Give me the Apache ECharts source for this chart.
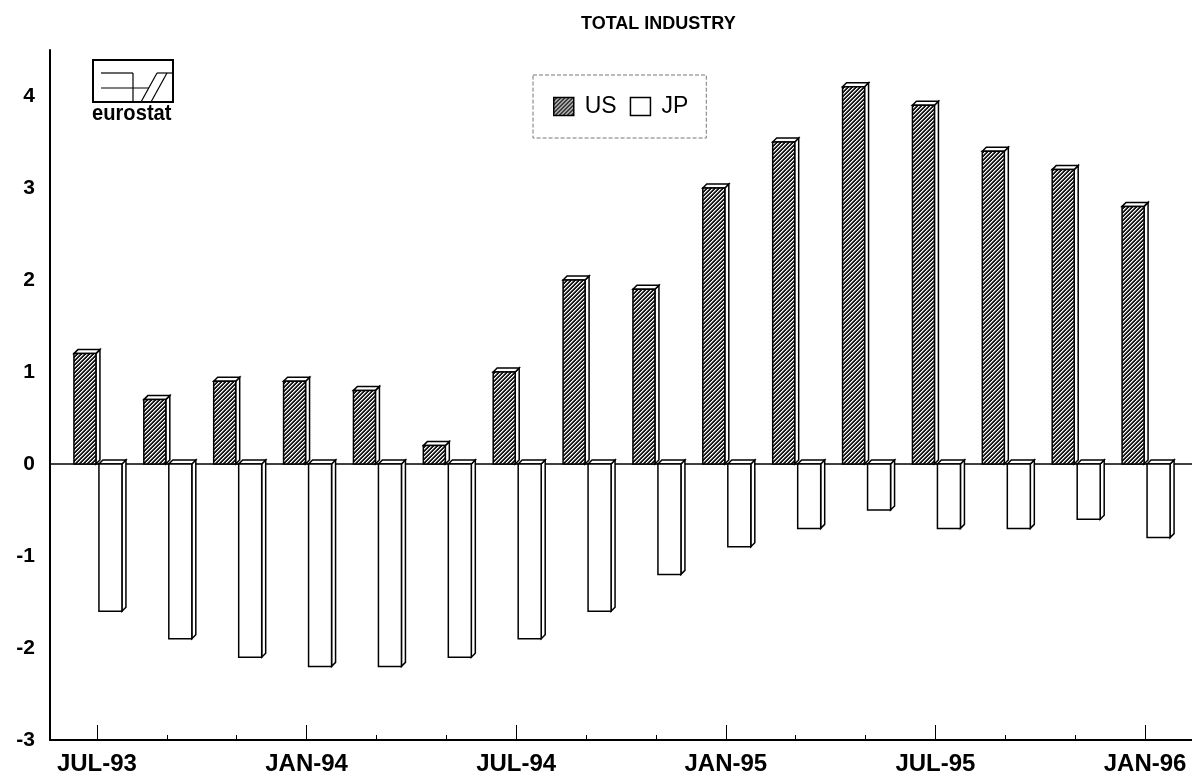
<!DOCTYPE html>
<html>
<head>
<meta charset="utf-8">
<title>Total industry</title>
<script src="https://cdn.jsdelivr.net/npm/echarts@6/dist/echarts.min.js"></script>
<style>
  html, body { margin: 0; padding: 0; background: #fff; }
  #chart { width: 1192px; height: 783px; }
</style>
</head>
<body>
<div id="chart"></div>
<script>
// two-month steps, JUL-93 .. JAN-96
const months = [
  "JUL-93", "SEP-93", "NOV-93", "JAN-94", "MAR-94", "MAY-94",
  "JUL-94", "SEP-94", "NOV-94", "JAN-95", "MAR-95", "MAY-95",
  "JUL-95", "SEP-95", "NOV-95", "JAN-96"
];
const usValues = [1.2, 0.7, 0.9, 0.9, 0.8, 0.2, 1.0, 2.0, 1.9, 3.0, 3.5, 4.1, 3.9, 3.4, 3.2, 2.8];
const jpValues = [-1.6, -1.9, -2.1, -2.2, -2.2, -2.1, -1.9, -1.6, -1.2, -0.9, -0.7, -0.5, -0.7, -0.7, -0.6, -0.8];
const yTicks = [-3, -2, -1, 0, 1, 2, 3, 4];

// hatch fill for the US bars: black with white "/" stripes
function makeHatch() {
  const cv = document.createElement("canvas");
  cv.width = 8;
  cv.height = 8;
  const ctx = cv.getContext("2d");
  const img = ctx.createImageData(8, 8);
  for (let y = 0; y < 8; y++) {
    for (let x = 0; x < 8; x++) {
      const k = (x + y) % 4;
      const v = k === 0 ? 255 : (k === 1 ? 150 : 25);
      const i = (y * 8 + x) * 4;
      img.data[i] = v;
      img.data[i + 1] = v;
      img.data[i + 2] = v;
      img.data[i + 3] = 255;
    }
  }
  ctx.putImageData(img, 0, 0);
  return { image: cv, repeat: "repeat" };
}
const hatch = makeHatch();

const DEPTH = 4;

// 3D-looking bar: front face + top face + right side face
const makeBar = (left, right, frontFill) => (params, api) => {
  const i = api.value(0);
  const v = api.value(1);
  const base = api.coord([i, 0]);
  const end = api.coord([i, v]);
  const c = base[0];
  const x0 = c + left;
  const x1 = c + right;
  const yTop = Math.min(base[1], end[1]);
  const yBot = Math.max(base[1], end[1]);
  const d = DEPTH;
  const line = { stroke: "#000", lineWidth: 1.5 };
  return {
    type: "group",
    children: [
      {
        type: "polygon",
        shape: { points: [[x1, yTop], [x1 + d, yTop - d], [x1 + d, yBot - d], [x1, yBot]] },
        style: Object.assign({ fill: "#fff" }, line)
      },
      {
        type: "polygon",
        shape: { points: [[x0, yTop], [x0 + d, yTop - d], [x1 + d, yTop - d], [x1, yTop]] },
        style: Object.assign({ fill: "#fff" }, line)
      },
      {
        type: "rect",
        shape: { x: x0, y: yTop, width: x1 - x0, height: yBot - yTop },
        style: Object.assign({ fill: frontFill }, line)
      }
    ]
  };
};

const chart = echarts.init(document.getElementById("chart"));

const labelFont = { fontFamily: "Liberation Sans", fontWeight: "bold", color: "#000" };

const option = {
  animation: false,
  backgroundColor: "#fff",
  title: {
    text: "TOTAL INDUSTRY",
    left: 576,
    top: 10,
    textStyle: { fontFamily: "Liberation Sans", fontSize: 18, fontWeight: "bold", color: "#000" }
  },
  legend: {
    data: ["US", "JP"],
    left: 533,
    top: 75,
    padding: [20, 18, 20, 20],
    itemWidth: 20,
    itemHeight: 18,
    itemGap: 13,
    borderColor: "#777",
    borderWidth: 1,
    borderType: "dashed",
    icon: "rect",
    itemStyle: { borderColor: "#000", borderWidth: 1.5 },
    textStyle: { fontFamily: "Liberation Sans", fontSize: 23, color: "#000", padding: [0, 0, 0, 6] }
  },
  grid: [
    { left: 62, right: 12, top: 50, bottom: 43 },
    { left: 50, right: 0, top: 50, bottom: 43 }
  ],
  xAxis: [
    {
      type: "category",
      gridIndex: 0,
      data: months,
      boundaryGap: true,
      position: "bottom",
      axisLine: { show: false, onZero: false },
      axisTick: { show: true, inside: true, length: 5, interval: 0, alignWithLabel: true, lineStyle: { color: "#000" } },
      axisLabel: { show: false }
    },
    {
      type: "category",
      gridIndex: 0,
      data: months,
      boundaryGap: true,
      position: "bottom",
      axisLine: { show: false, onZero: false },
      axisTick: { show: true, inside: true, length: 15, interval: 2, alignWithLabel: true, lineStyle: { color: "#000" } },
      axisLabel: Object.assign({ interval: 2, margin: 12, fontSize: 24 }, labelFont)
    },
    {
      type: "value",
      gridIndex: 1,
      min: 0,
      max: 1,
      position: "bottom",
      axisLine: { show: true, onZero: false, lineStyle: { color: "#000", width: 2 } },
      axisTick: { show: false },
      axisLabel: { show: false },
      splitLine: { show: false }
    }
  ],
  yAxis: [
    {
      type: "value",
      gridIndex: 0,
      min: -3,
      max: 4.5,
      interval: 1,
      show: false
    },
    {
      type: "value",
      gridIndex: 1,
      min: -3,
      max: 4.5,
      interval: 1,
      axisLine: { show: true, onZero: false, lineStyle: { color: "#000", width: 2 } },
      axisTick: { show: false },
      splitLine: { show: false },
      axisLabel: Object.assign({
        showMaxLabel: false,
        margin: 15,
        fontSize: 21,
        formatter: (v) => (yTicks.indexOf(v) >= 0 ? String(v) : "")
      }, labelFont)
    }
  ],
  series: [
    {
      name: "zero",
      type: "line",
      xAxisIndex: 2,
      yAxisIndex: 1,
      data: [[0, 0], [1, 0]],
      symbol: "none",
      silent: true,
      z: 1,
      lineStyle: { color: "#000", width: 1.5 }
    },
    {
      name: "US",
      type: "custom",
      xAxisIndex: 0,
      yAxisIndex: 0,
      z: 3,
      itemStyle: { color: hatch },
      renderItem: makeBar(-23, -1, hatch),
      data: usValues.map((v, i) => [i, v])
    },
    {
      name: "JP",
      type: "custom",
      xAxisIndex: 0,
      yAxisIndex: 0,
      z: 3,
      itemStyle: { color: "#fff" },
      renderItem: makeBar(2, 25, "#fff"),
      data: jpValues.map((v, i) => [i, v])
    }
  ],
  graphic: [
    {
      type: "group",
      left: 92,
      top: 59,
      children: [
        { type: "rect", shape: { x: 0, y: 0, width: 80, height: 42 }, style: { fill: "#fff", stroke: "#000", lineWidth: 2 } },
        { type: "line", shape: { x1: 8, y1: 13, x2: 40, y2: 13 }, style: { stroke: "#000", lineWidth: 1.2 } },
        { type: "line", shape: { x1: 8, y1: 28, x2: 56, y2: 28 }, style: { stroke: "#000", lineWidth: 1.2 } },
        { type: "line", shape: { x1: 40, y1: 13, x2: 40, y2: 42 }, style: { stroke: "#000", lineWidth: 1.2 } },
        { type: "line", shape: { x1: 48, y1: 42, x2: 64, y2: 13 }, style: { stroke: "#000", lineWidth: 1.2 } },
        { type: "line", shape: { x1: 58, y1: 42, x2: 74, y2: 13 }, style: { stroke: "#000", lineWidth: 1.2 } },
        { type: "line", shape: { x1: 64, y1: 13, x2: 80, y2: 13 }, style: { stroke: "#000", lineWidth: 1.2 } }
      ]
    },
    {
      type: "text",
      left: 92,
      top: 103,
      scaleX: 1.12,
      scaleY: 1.2,
      style: {
        text: "eurostat",
        font: "900 18px 'Liberation Sans'",
        fill: "#000"
      }
    }
  ]
};

chart.setOption(option);
</script>
</body>
</html>
